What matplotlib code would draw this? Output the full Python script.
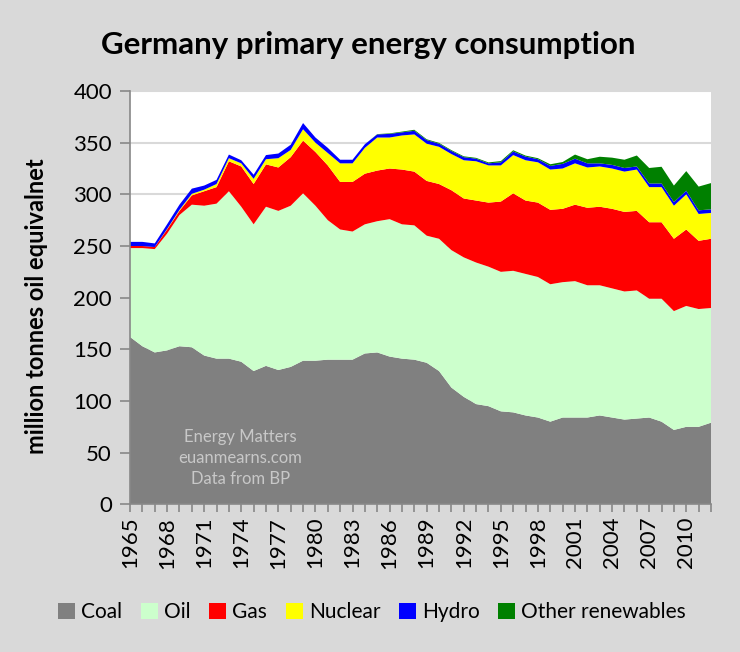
import numpy as np
import matplotlib
matplotlib.use('Agg')
import matplotlib.pyplot as plt
from matplotlib.patches import Patch

plt.rcParams['font.family'] = ['Lato', 'DejaVu Sans']

# Dados (Mtoe)
anos = list(range(1965, 2013))
coal = [162, 153, 147, 149, 153, 152, 144, 141, 141, 138, 129, 134, 130, 133, 139, 139,
        140, 140, 140, 146, 147, 143, 141, 140, 137, 129, 113, 104, 97, 95, 90, 89,
        86, 84, 80, 84, 84, 84, 86, 84, 82, 83, 84, 80, 72, 75, 75, 79]
oil = [86, 95, 100, 113, 127, 138, 145, 150, 162, 150, 142, 154, 154, 156, 162, 150,
       135, 126, 124, 125, 127, 133, 130, 130, 123, 128, 133, 135, 137, 135, 135, 137,
       137, 136, 133, 131, 132, 128, 126, 125, 124, 124, 115, 119, 115, 117, 114, 111]
gas = [2, 2, 2, 4, 4, 9, 14, 16, 29, 39, 39, 41, 42, 47, 51, 52,
       53, 46, 48, 49, 49, 49, 53, 52, 53, 53, 58, 57, 60, 62, 68, 75,
       71, 72, 72, 71, 74, 75, 76, 77, 77, 77, 74, 74, 70, 74, 66, 67]
nuclear = [0, 0, 0, 0.5, 1, 1.5, 1.5, 3, 3, 3, 5, 5, 9, 7, 11, 9,
           12, 18, 18, 25, 32, 30, 33, 36, 36, 36, 35, 37, 38, 36, 35, 37,
           39, 39, 39, 39, 40, 39, 39, 39, 39, 40, 34, 34, 32, 34, 26, 25]
hydro = [4, 4, 3.5, 4.5, 5, 5, 4, 4, 3.5, 3, 4, 4, 4.5, 5, 6, 5,
         5, 3.5, 3.5, 3.5, 3, 3.5, 3, 3.5, 3.5, 3, 3, 3, 2.5, 2, 3, 3.5,
         3.5, 3, 3.5, 4.5, 4.5, 4, 3, 3.5, 3.5, 3, 3.5, 3.5, 3.5, 3.5, 3.5, 3.5]
outras = [0] * 20 + [0.3, 0.5, 0.7, 1, 0.8, 0.8, 0.8, 0.8, 0.8, 0.9, 1.2, 1.2,
                     1, 1, 1.6, 1.8, 4, 4, 6.4, 7, 8, 10.6, 15, 16.2, 16, 19, 23, 25.4]

nomes = ['Coal', 'Oil', 'Gas', 'Nuclear', 'Hydro', 'Other renewables']
cores = ['#808080', '#ccffcc', '#ff0000', '#ffff00', '#0000ff', '#008000']

fig = plt.figure(figsize=(7.4, 6.52), dpi=100)
fig.patch.set_facecolor('#d9d9d9')
ax = fig.add_axes([0.1757, 0.2265, 0.7851, 0.6339])
ax.set_facecolor('#ffffff')

ax.stackplot(anos, coal, oil, gas, nuclear, hydro, outras, colors=cores, linewidth=0, zorder=2)

ax.set_xlim(1965, 2012)
ax.set_ylim(0, 400)
ax.set_yticks(range(0, 401, 50))
ax.yaxis.grid(True, color='#d9d9d9', linewidth=1.5, zorder=1)
ax.set_axisbelow(True)

ax.set_xticks(anos)
ax.set_xticklabels([str(a) if (a - 1965) % 3 == 0 else '' for a in anos], rotation=90, fontsize=16)
ax.tick_params(axis='x', direction='out', length=6, color='#888888', width=1.2, pad=3)
ax.tick_params(axis='y', direction='out', length=7, color='#888888', width=1.2, labelsize=16, pad=6)

for s in ['top', 'right']:
    ax.spines[s].set_visible(False)
ax.spines['left'].set_color('#888888')
ax.spines['bottom'].set_color('#888888')
ax.spines['left'].set_linewidth(1.2)
ax.spines['bottom'].set_linewidth(1.2)

fig.text(0.497, 0.931, 'Germany primary energy consumption', ha='center', va='center',
         fontsize=22.5, fontweight='bold')
fig.text(0.05, 0.531, 'million tonnes oil equivalnet', rotation=90, ha='center', va='center',
         fontsize=17, fontweight='bold')

ax.text(0.19, 0.112, 'Energy Matters\neuanmearns.com\nData from BP', transform=ax.transAxes,
        ha='center', va='center', fontsize=12, color='#c8c8c8', linespacing=1.35, zorder=5)

handles = [Patch(facecolor=c, edgecolor='none') for c in cores]
fig.legend(handles, nomes, loc='center', bbox_to_anchor=(0.503, 0.061), ncol=6, frameon=False,
           fontsize=15, handlelength=0.8, handleheight=0.8, handletextpad=0.3, columnspacing=0.9)

fig.savefig('out.png', dpi=100, facecolor=fig.get_facecolor())
